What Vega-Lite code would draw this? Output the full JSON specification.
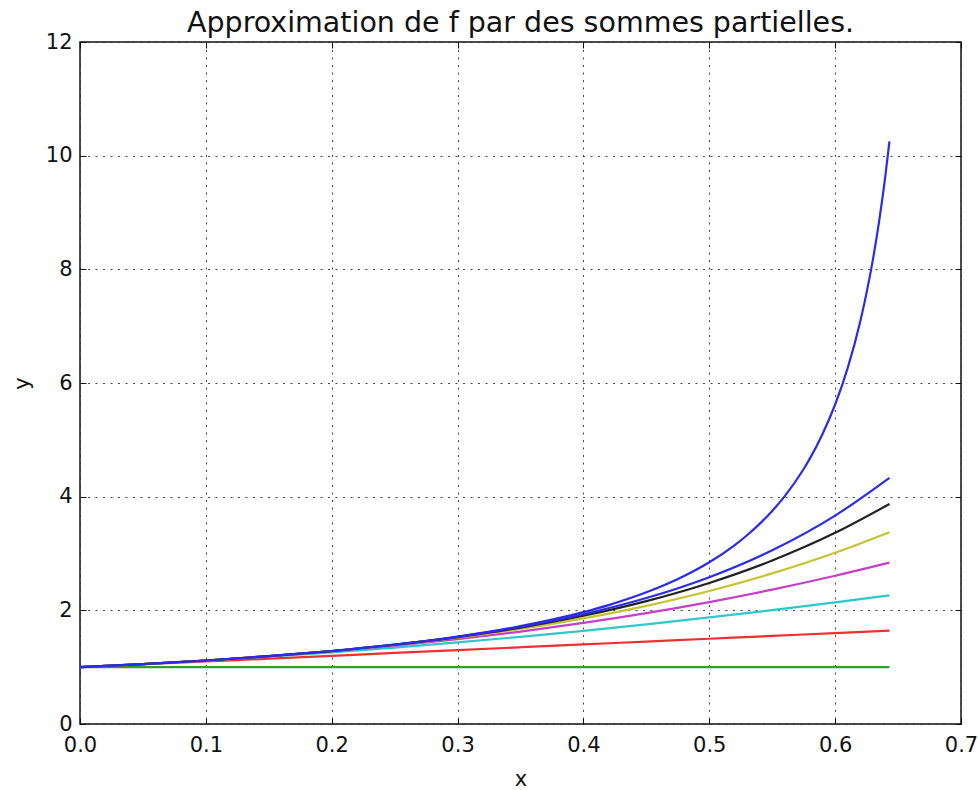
{
  "$schema": "https://vega.github.io/schema/vega-lite/v6.json",
  "width": 881,
  "height": 682,
  "autosize": {"type": "none"},
  "padding": {"left": 80, "top": 42, "right": 19, "bottom": 66},
  "background": "white",
  "config": {
    "font": "DejaVu Sans",
    "view": {"stroke": "#111111", "strokeWidth": 1.5},
    "axis": {
      "labelFont": "DejaVu Sans", "labelFontSize": 21, "labelColor": "#111111",
      "titleFont": "DejaVu Sans", "titleFontSize": 21, "titleFontWeight": "normal", "titleColor": "#111111",
      "domain": false, "tickColor": "#111111", "tickWidth": 1, "tickSize": -6,
      "gridColor": "#333333", "gridDash": [2, 5.5], "gridWidth": 1, "gridOpacity": 0.9
    }
  },
  "title": {
    "text": "Approximation de f par des sommes partielles.",
    "fontSize": 28.5, "fontWeight": "normal", "font": "DejaVu Sans", "color": "#111111",
    "anchor": "middle", "offset": 9, "dy": 15
  },
  "resolve": {"axis": {"x": "independent", "y": "independent"}},
  "layer": [
    {
      "data": {"values": [
        {"x": 0, "y": 1}, {"x": 0.05, "y": 1.05404}, {"x": 0.1, "y": 1.11753}, {"x": 0.15, "y": 1.19308},
        {"x": 0.2, "y": 1.28436}, {"x": 0.25, "y": 1.3967}, {"x": 0.3, "y": 1.53813}, {"x": 0.35, "y": 1.72137},
        {"x": 0.4, "y": 1.96783}, {"x": 0.42, "y": 2.09188}, {"x": 0.45, "y": 2.31649}, {"x": 0.48, "y": 2.60467},
        {"x": 0.5, "y": 2.84673}, {"x": 0.52, "y": 3.14493}, {"x": 0.53, "y": 3.32151}, {"x": 0.55, "y": 3.74887},
        {"x": 0.56, "y": 4.01079}, {"x": 0.575, "y": 4.48696}, {"x": 0.58, "y": 4.67373}, {"x": 0.59, "y": 5.10332},
        {"x": 0.6, "y": 5.62173}, {"x": 0.61, "y": 6.26688}, {"x": 0.62, "y": 7.08858}, {"x": 0.625, "y": 7.5899},
        {"x": 0.63, "y": 8.17067}, {"x": 0.635, "y": 8.85134}, {"x": 0.64, "y": 9.66006}, {"x": 0.64315, "y": 10.252}
      ]},
      "mark": {"type": "line", "interpolate": "monotone", "strokeWidth": 2.2, "color": "#2b2bea"},
      "encoding": {
        "x": {"field": "x", "type": "quantitative",
              "scale": {"domain": [0, 0.7], "nice": false, "zero": false},
              "axis": {"title": "x", "values": [0, 0.1, 0.2, 0.3, 0.4, 0.5, 0.6, 0.7], "format": ".1f",
                       "labelPadding": 16, "titlePadding": 13, "grid": true, "labelFlush": false}},
        "y": {"field": "y", "type": "quantitative",
              "scale": {"domain": [0, 12], "nice": false},
              "axis": {"title": "y", "values": [0, 2, 4, 6, 8, 10, 12], "format": "d",
                       "labelPadding": 14, "titlePadding": 13, "grid": true, "labelFlush": false}}
      }
    },
    {
      "data": {"values": [
        {"x": 0, "S0": 1, "S1": 1, "S2": 1, "S3": 1, "S4": 1, "S5": 1, "S6": 1},
        {"x": 0.05, "S0": 1, "S1": 1.05, "S2": 1.05375, "S3": 1.05402, "S4": 1.05404, "S5": 1.05404, "S6": 1.05404},
        {"x": 0.1, "S0": 1, "S1": 1.1, "S2": 1.115, "S3": 1.11717, "S4": 1.11748, "S5": 1.11752, "S6": 1.11753},
        {"x": 0.15, "S0": 1, "S1": 1.15, "S2": 1.18375, "S3": 1.19106, "S4": 1.19264, "S5": 1.19299, "S6": 1.19306},
        {"x": 0.2, "S0": 1, "S1": 1.2, "S2": 1.26, "S3": 1.27733, "S4": 1.28233, "S5": 1.28378, "S6": 1.28419},
        {"x": 0.25, "S0": 1, "S1": 1.25, "S2": 1.34375, "S3": 1.3776, "S4": 1.38981, "S5": 1.39421, "S6": 1.3958},
        {"x": 0.3, "S0": 1, "S1": 1.3, "S2": 1.435, "S3": 1.4935, "S4": 1.51881, "S5": 1.52977, "S6": 1.53451},
        {"x": 0.35, "S0": 1, "S1": 1.35, "S2": 1.53375, "S3": 1.62665, "S4": 1.67354, "S5": 1.69722, "S6": 1.70918},
        {"x": 0.4, "S0": 1, "S1": 1.4, "S2": 1.64, "S3": 1.77867, "S4": 1.85867, "S5": 1.90483, "S6": 1.93147},
        {"x": 0.45, "S0": 1, "S1": 1.45, "S2": 1.75375, "S3": 1.95119, "S4": 2.07933, "S5": 2.16252, "S6": 2.21653},
        {"x": 0.5, "S0": 1, "S1": 1.5, "S2": 1.875, "S3": 2.14583, "S4": 2.34115, "S5": 2.48203, "S6": 2.58366},
        {"x": 0.55, "S0": 1, "S1": 1.55, "S2": 2.00375, "S3": 2.36423, "S4": 2.65019, "S5": 2.87708, "S6": 3.05712},
        {"x": 0.6, "S0": 1, "S1": 1.6, "S2": 2.14, "S3": 2.608, "S4": 3.013, "S5": 3.36357, "S6": 3.66703},
        {"x": 0.64315, "S0": 1, "S1": 1.64315, "S2": 2.26361, "S3": 2.84003, "S4": 3.37472, "S5": 3.87086, "S6": 4.33122}
      ]},
      "transform": [{"fold": ["S0", "S1", "S2", "S3", "S4", "S5", "S6"], "as": ["serie", "y"]}],
      "mark": {"type": "line", "interpolate": "monotone", "strokeWidth": 2.2},
      "encoding": {
        "x": {"field": "x", "type": "quantitative", "axis": null},
        "y": {"field": "y", "type": "quantitative", "axis": null},
        "color": {"field": "serie", "type": "nominal", "legend": null,
                  "scale": {"domain": ["S0", "S1", "S2", "S3", "S4", "S5", "S6"],
                            "range": ["#2ea02e", "#f03030", "#2ec8c8", "#c83ec8", "#c4c42e", "#222222", "#2b2bea"]}}
      }
    },
    {
      "data": {"values": [{"x": 0, "y": 0}, {"x": 0.7, "y": 12}]},
      "mark": {"type": "point", "opacity": 0},
      "encoding": {
        "x": {"field": "x", "type": "quantitative",
              "axis": {"orient": "top", "title": null, "labels": false, "grid": false,
                       "values": [0, 0.1, 0.2, 0.3, 0.4, 0.5, 0.6, 0.7]}},
        "y": {"field": "y", "type": "quantitative",
              "axis": {"orient": "right", "title": null, "labels": false, "grid": false,
                       "values": [0, 2, 4, 6, 8, 10, 12]}}
      }
    }
  ]
}
